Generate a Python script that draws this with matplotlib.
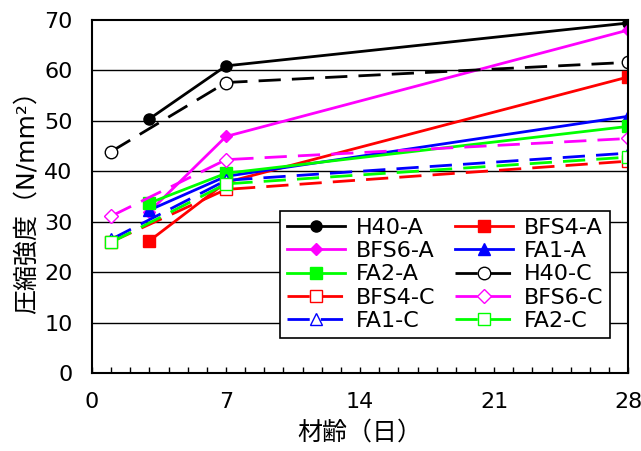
import matplotlib.pyplot as plt
from matplotlib.ticker import MultipleLocator

plt.rcParams['font.family'] = ['DejaVu Sans', 'Noto Sans CJK JP']

# ages (days)
age_a = [3, 7, 28]
age_c = [1, 7, 28]

# compressive strength (N/mm2)
h40_a = [50.4, 60.9, 69.4]
bfs4_a = [26.2, 37.8, 58.7]
bfs6_a = [32.0, 46.9, 68.0]
fa1_a = [32.3, 39.0, 50.9]
fa2_a = [33.7, 39.6, 48.9]
h40_c = [43.9, 57.6, 61.6]
bfs4_c = [26.0, 36.4, 42.0]
bfs6_c = [31.1, 42.3, 46.5]
fa1_c = [26.5, 38.2, 43.6]
fa2_c = [25.9, 37.5, 42.8]

fig = plt.figure(figsize=(6.41, 4.51), dpi=100)
ax = fig.add_axes([0.1435, 0.173, 0.8365, 0.7827])

for y in range(10, 70, 10):
    ax.axhline(y, color="black", lw=1, zorder=1)

ms = 8
lines = {}
lines["H40-A"], = ax.plot(age_a, h40_a, "-", color="black", lw=2, marker="o", ms=ms)
lines["BFS4-A"], = ax.plot(age_a, bfs4_a, "-", color="red", lw=2, marker="s", ms=ms)
lines["BFS6-A"], = ax.plot(age_a, bfs6_a, "-", color="magenta", lw=2, marker="D", ms=6.5)
lines["FA1-A"], = ax.plot(age_a, fa1_a, "-", color="blue", lw=2, marker="^", ms=ms)
lines["FA2-A"], = ax.plot(age_a, fa2_a, "-", color="#00ff00", lw=2, marker="s", ms=ms)

dash = (0, (8, 4))
lines["H40-C"], = ax.plot(age_c, h40_c, ls=dash, color="black", lw=2, marker="o", ms=ms + 1,
                          mfc="white", mec="black", mew=1)
lines["BFS4-C"], = ax.plot(age_c, bfs4_c, ls=dash, color="red", lw=2, marker="s", ms=ms + 1,
                           mfc="white", mec="red", mew=1)
lines["BFS6-C"], = ax.plot(age_c, bfs6_c, ls=dash, color="magenta", lw=2, marker="D", ms=7,
                           mfc="white", mec="magenta", mew=1)
lines["FA1-C"], = ax.plot(age_c, fa1_c, ls=dash, color="blue", lw=2, marker="^", ms=ms + 1,
                          mfc="white", mec="blue", mew=1)
lines["FA2-C"], = ax.plot(age_c, fa2_c, ls=dash, color="#00ff00", lw=2, marker="s", ms=ms + 1,
                          mfc="white", mec="#00ff00", mew=1)

ax.set_xlim(0, 28)
ax.set_ylim(0, 70)
ax.set_xticks([0, 7, 14, 21, 28])
ax.xaxis.set_minor_locator(MultipleLocator(1))
ax.set_yticks(range(0, 80, 10))
ax.tick_params(axis="x", which="major", direction="in", length=4, width=1, pad=14, labelsize=16)
ax.tick_params(axis="x", which="minor", direction="in", length=4, width=1)
ax.tick_params(axis="y", direction="in", length=0, pad=14, labelsize=16)
for s in ax.spines.values():
    s.set_linewidth(1.5)

ax.set_xlabel("材齢（日）", fontsize=18, labelpad=6)
ax.set_ylabel("圧縮強度（N/mm²）", fontsize=18, labelpad=4)

# legend filled row by row
order = ["H40-A", "BFS6-A", "FA2-A", "BFS4-C", "FA1-C",
         "BFS4-A", "FA1-A", "H40-C", "BFS6-C", "FA2-C"]
leg = ax.legend([lines[k] for k in order], order, ncol=2, fontsize=16,
                loc="lower right", bbox_to_anchor=(0.967, 0.1), fancybox=False,
                framealpha=1, edgecolor="black", handlelength=2.6,
                labelspacing=0.15, columnspacing=0.9, handletextpad=0.5,
                borderpad=0.3, borderaxespad=0)
leg.get_frame().set_linewidth(1.2)

fig.savefig("out.png", dpi=100)
